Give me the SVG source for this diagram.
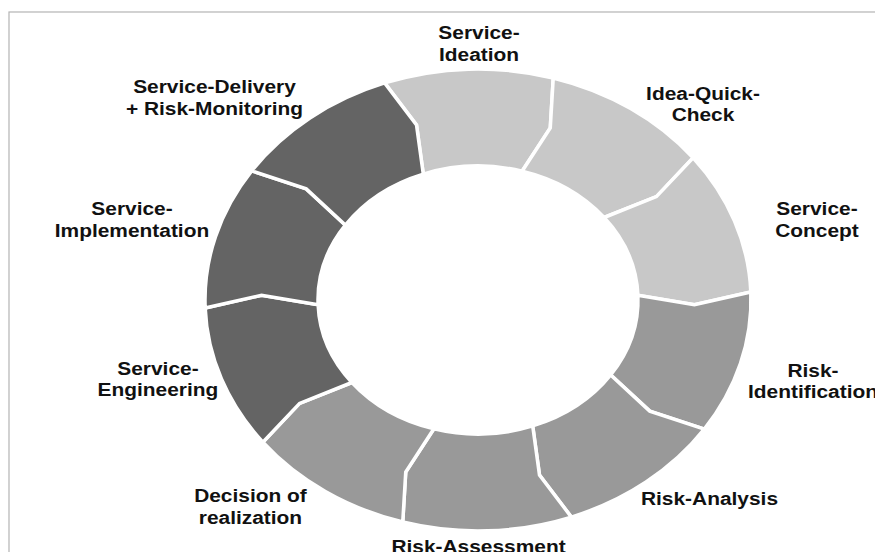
<svg xmlns="http://www.w3.org/2000/svg" width="875" height="552" viewBox="0 0 875 552">
  <style>
    .seg { stroke: #ffffff; stroke-width: 3.5; stroke-linejoin: miter; }
    .light { fill: #c8c8c8; }
    .mid { fill: #999999; }
    .dark { fill: #646464; }
    .lbl { font-family: "Liberation Sans", Arial, Helvetica, sans-serif; font-weight: bold; font-size: 19px; fill: #111111; text-anchor: middle; }
  </style>
  <rect x="0" y="0" width="875" height="552" fill="#ffffff"/>
  <rect x="9" y="12" width="900" height="600" fill="none" stroke="#b4b4b4" stroke-width="1.2"/>

  <g id="ring">
    <g id="n-ideation"><path class="seg light" d="M384.63,82.93 A273,231 0 0 1 553.25,77.95 L550.27,127.97 L522.10,171.19 A160,134 0 0 0 423.28,174.08 L416.51,125.01 Z"/></g>
    <g id="n-quickcheck"><path class="seg light" d="M553.25,77.95 A273,231 0 0 1 693.13,157.78 L656.42,196.63 L604.08,217.50 A160,134 0 0 0 522.10,171.19 L550.27,127.97 Z"/></g>
    <g id="n-concept"><path class="seg light" d="M693.13,157.78 A273,231 0 0 1 750.83,291.94 L694.43,304.78 L637.90,295.32 A160,134 0 0 0 604.08,217.50 L656.42,196.63 Z"/></g>
    <g id="n-riskident"><path class="seg mid" d="M750.83,291.94 A273,231 0 0 1 704.33,429.17 L649.76,411.10 L610.65,374.93 A160,134 0 0 0 637.90,295.32 L694.43,304.78 Z"/></g>
    <g id="n-riskanalysis"><path class="seg mid" d="M704.33,429.17 A273,231 0 0 1 571.37,517.07 L539.49,474.99 L532.72,425.92 A160,134 0 0 0 610.65,374.93 L649.76,411.10 Z"/></g>
    <g id="n-riskassessment"><path class="seg mid" d="M571.37,517.07 A273,231 0 0 1 402.75,522.05 L405.73,472.03 L433.90,428.81 A160,134 0 0 0 532.72,425.92 L539.49,474.99 Z"/></g>
    <g id="n-decision"><path class="seg mid" d="M402.75,522.05 A273,231 0 0 1 262.87,442.22 L299.58,403.37 L351.92,382.50 A160,134 0 0 0 433.90,428.81 L405.73,472.03 Z"/></g>
    <g id="n-engineering"><path class="seg dark" d="M262.87,442.22 A273,231 0 0 1 205.17,308.06 L261.57,295.22 L318.10,304.68 A160,134 0 0 0 351.92,382.50 L299.58,403.37 Z"/></g>
    <g id="n-implementation"><path class="seg dark" d="M205.17,308.06 A273,231 0 0 1 251.67,170.83 L306.24,188.90 L345.35,225.07 A160,134 0 0 0 318.10,304.68 L261.57,295.22 Z"/></g>
    <g id="n-delivery"><path class="seg dark" d="M251.67,170.83 A273,231 0 0 1 384.63,82.93 L416.51,125.01 L423.28,174.08 A160,134 0 0 0 345.35,225.07 L306.24,188.90 Z"/></g>
  </g>

  <g id="connectors"></g>

  <g id="labels" transform="scale(1.1,1)">
    <text class="lbl" x="435.5" y="39.5">Service-</text>
    <text class="lbl" x="435.5" y="61">Ideation</text>

    <text class="lbl" x="195" y="93">Service-Delivery</text>
    <text class="lbl" x="195" y="115">+ Risk-Monitoring</text>

    <text class="lbl" x="639.1" y="100">Idea-Quick-</text>
    <text class="lbl" x="639.1" y="121.5">Check</text>

    <text class="lbl" x="742.7" y="215.5">Service-</text>
    <text class="lbl" x="742.7" y="237">Concept</text>

    <text class="lbl" x="120" y="215.5">Service-</text>
    <text class="lbl" x="120" y="237">Implementation</text>

    <text class="lbl" x="739.1" y="377">Risk-</text>
    <text class="lbl" x="739.1" y="398.5">Identification</text>

    <text class="lbl" x="143.6" y="375">Service-</text>
    <text class="lbl" x="143.6" y="396.5">Engineering</text>

    <text class="lbl" x="227.7" y="502">Decision of</text>
    <text class="lbl" x="227.7" y="524">realization</text>

    <text class="lbl" x="645" y="505">Risk-Analysis</text>

    <text class="lbl" x="435" y="553">Risk-Assessment</text>
  </g>
</svg>
